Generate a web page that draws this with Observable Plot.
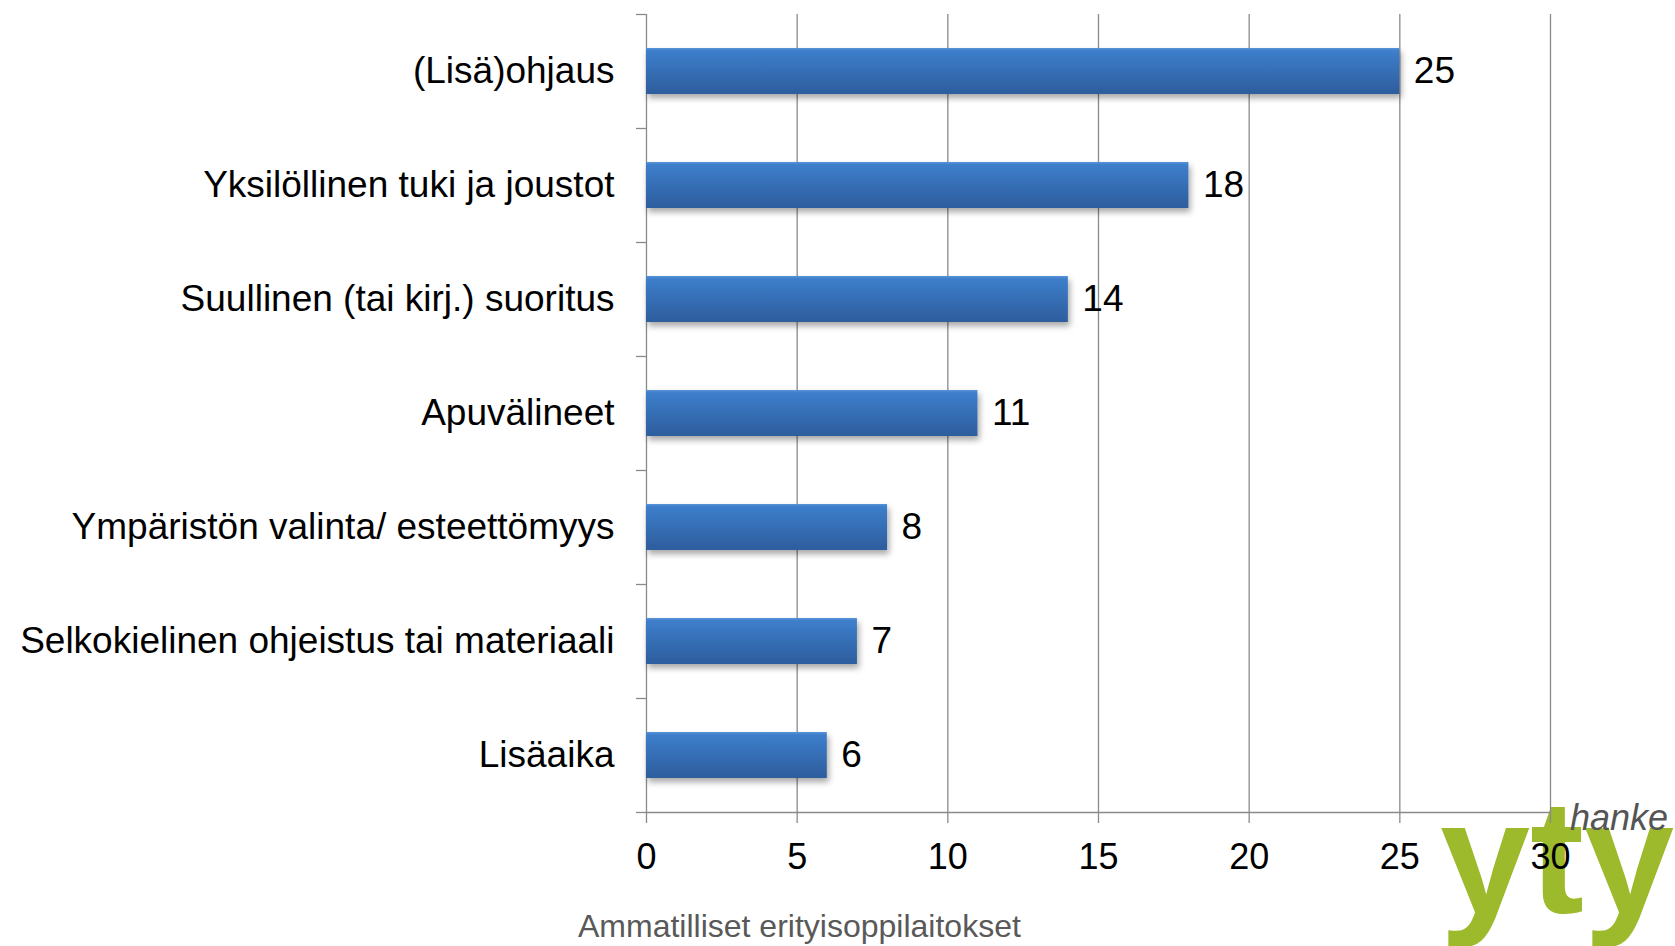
<!DOCTYPE html>
<html><head><meta charset="utf-8">
<script src="https://cdn.jsdelivr.net/npm/d3@7"></script>
<script src="https://cdn.jsdelivr.net/npm/@observablehq/plot@0.6"></script>
<style>
body{margin:0;background:#fff;}
#wrap{position:relative;width:1675px;height:946px;overflow:hidden;font-family:"Liberation Sans",Arial,sans-serif;}
#logo{position:absolute;left:0;top:0;z-index:0}
#chart{position:absolute;left:0;top:0;z-index:1}
#caption{position:absolute;left:578px;top:910px;font-size:32px;line-height:32px;color:#595959;white-space:nowrap;z-index:2}
</style>
</head><body>
<div id="wrap">
<svg id="logo" width="1675" height="946" xmlns="http://www.w3.org/2000/svg">
  <text x="1440" y="913" font-family="Liberation Sans, Arial, sans-serif" font-size="162" font-weight="bold" fill="#9db92c">yty</text>
  <text x="1570" y="830" font-family="Liberation Sans, Arial, sans-serif" font-size="36" font-style="italic" fill="#555">hanke</text>
</svg>
<div id="chart"></div>
<div id="caption">Ammatilliset erityisoppilaitokset</div>
</div>
<script>
const categories = ["(Lisä)ohjaus","Yksilöllinen tuki ja joustot","Suullinen (tai kirj.) suoritus","Apuvälineet","Ympäristön valinta/ esteettömyys","Selkokielinen ohjeistus tai materiaali","Lisäaika"];
const values = [25,18,14,11,8,7,6];
const xTicks = [0,5,10,15,20,25,30];

const data = categories.map((c,i)=>({cat:c, value:values[i]}));
const W=1675,H=946,mT=14,mB=134,mL=646,mR=125;
const step=(H-mT-mB)/categories.length;
const grid="#8a8a8a";

const svg = Plot.plot({
  width:W,height:H,marginLeft:mL,marginRight:mR,marginTop:mT,marginBottom:mB,
  style:{fontFamily:"Liberation Sans, Arial, sans-serif",fontSize:"36px",background:"transparent",color:"#000"},
  x:{domain:[0,30]},
  y:{domain:categories,paddingInner:0.596,paddingOuter:0.298},
  marks:[
    Plot.ruleX(xTicks,{stroke:grid,strokeWidth:1.3}),
    Plot.frame({anchor:"bottom",stroke:grid,strokeWidth:1.3}),
    Plot.axisX({ticks:xTicks,tickSize:11,tickPadding:20,stroke:grid,strokeWidth:1.3,fill:"#000",fontSize:36,label:null}),
    Plot.axisY({tickSize:0,tickPadding:32,fontSize:37,fill:"#000",label:null}),
    Plot.axisY({text:null,tickSize:10,dy:-step/2,stroke:grid,strokeWidth:1.3,label:null}),
    Plot.axisY([categories[categories.length-1]],{text:null,tickSize:10,dy:step/2,stroke:grid,strokeWidth:1.3,label:null}),
    Plot.barX(data,{x:"value",y:"cat",fill:"url(#barGrad)"}),
    Plot.text(data,{x:"value",y:"cat",text:d=>String(d.value),dx:14,textAnchor:"start",fontSize:37,fill:"#000"})
  ]
});
d3.select(svg).insert("defs",":first-child").html(
  '<linearGradient id="barGrad" x1="0" y1="0" x2="0" y2="1">'+
  '<stop offset="0" stop-color="#5a93d8"/><stop offset="0.06" stop-color="#3d7ecb"/><stop offset="1" stop-color="#2d5d9d"/></linearGradient>'+
  '<filter id="shadow" x="-5%" y="-20%" width="115%" height="170%"><feDropShadow dx="2" dy="4" stdDeviation="3" flood-color="#000" flood-opacity="0.35"/></filter>');
d3.select(svg).select('g[aria-label="bar"]').attr("filter","url(#shadow)");
document.getElementById("chart").appendChild(svg);
</script>
</body></html>
